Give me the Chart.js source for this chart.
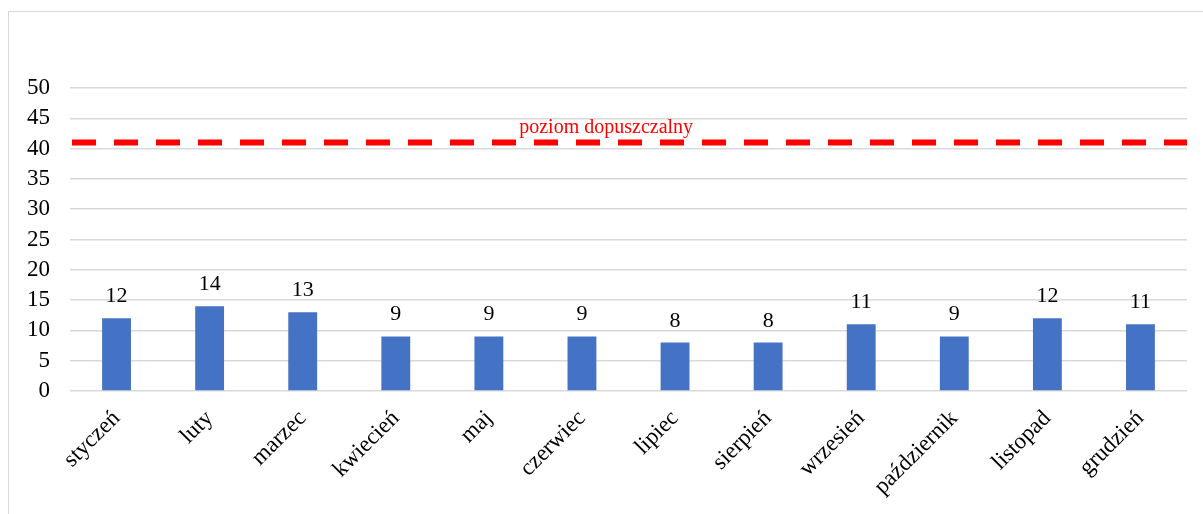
<!DOCTYPE html>
<html>
<head>
<meta charset="utf-8">
<script src="https://cdn.jsdelivr.net/npm/chart.js@4/dist/chart.umd.min.js"></script>
<style>
  html, body { margin: 0; padding: 0; background: #fff; overflow: hidden; }
  #frame {
    position: absolute; left: 8px; top: 11px; width: 1300px; height: 600px;
    border-left: 1px solid #d9d9d9; border-top: 1px solid #d9d9d9;
  }
  #chart { position: absolute; left: 0; top: 0; }
</style>
</head>
<body>
<div id="frame"></div>
<canvas id="chart" width="1203" height="514"></canvas>
<script>
/* eslint-disable no-undef */

// Dane wykresu
const months = ["styczeń", "luty", "marzec", "kwiecień", "maj", "czerwiec",
  "lipiec", "sierpień", "wrzesień", "październik", "listopad", "grudzień"]
const values = [12, 14, 13, 9, 9, 9, 8, 8, 11, 9, 12, 11]
const limitValue = 41
const limitLabel = "poziom dopuszczalny"
const yMin = 0
const yMax = 50
const yStep = 5

const serif = "'Liberation Serif', 'Times New Roman', serif"

// Etykiety wartości nad słupkami
const valueLabels = {
  id: "valueLabels",
  afterDatasetsDraw(chart) {
    const ctx = chart.ctx
    const meta = chart.getDatasetMeta(0)
    ctx.save()
    ctx.font = "22px " + serif
    ctx.fillStyle = "#000"
    ctx.textAlign = "center"
    ctx.textBaseline = "alphabetic"
    meta.data.forEach((bar, i) => {
      ctx.fillText(String(values[i]), bar.x, bar.y - 16)
    })
    ctx.restore()
  }
}

// Linia poziomu dopuszczalnego
const limitLine = {
  id: "limitLine",
  afterDatasetsDraw(chart) {
    const ctx = chart.ctx
    const area = chart.chartArea
    const y = chart.scales.y.getPixelForValue(limitValue)
    ctx.save()
    ctx.strokeStyle = "#ff0000"
    ctx.lineWidth = 6
    ctx.setLineDash([24, 18])
    ctx.beginPath()
    ctx.moveTo(area.left + 2, y)
    ctx.lineTo(area.right, y)
    ctx.stroke()
    ctx.font = "20px " + serif
    ctx.fillStyle = "#ff0000"
    ctx.textAlign = "center"
    ctx.textBaseline = "alphabetic"
    ctx.fillText(limitLabel, area.left + (area.right - area.left) * 0.48, y - 10)
    ctx.restore()
  }
}

new Chart(document.getElementById("chart").getContext("2d"), {
  type: "bar",
  data: {
    labels: months,
    datasets: [
      {
        data: values,
        backgroundColor: "#4472c4",
        categoryPercentage: 1,
        barPercentage: 0.31,
      },
    ],
  },
  options: {
    responsive: false,
    animation: false,
    layout: { padding: { left: 0, top: 88, right: 16, bottom: 0 } },
    plugins: {
      legend: { display: false },
      tooltip: { enabled: false },
    },
    scales: {
      x: {
        grid: { display: false },
        border: { display: false },
        ticks: {
          color: "#000",
          font: { family: serif, size: 23 },
          maxRotation: 45,
          minRotation: 45,
          autoSkip: false,
          padding: 6,
        },
        afterFit(scale) { scale.height = 123 },
      },
      y: {
        min: yMin,
        max: yMax,
        grid: { color: "#d9d9d9", lineWidth: 1.5, drawTicks: false },
        border: { display: false },
        ticks: {
          stepSize: yStep,
          autoSkip: false,
          color: "#000",
          font: { family: serif, size: 23 },
          padding: 20,
        },
        afterFit(scale) { scale.width = 70 },
      },
    },
  },
  plugins: [valueLabels, limitLine],
})
</script>
</body>
</html>
